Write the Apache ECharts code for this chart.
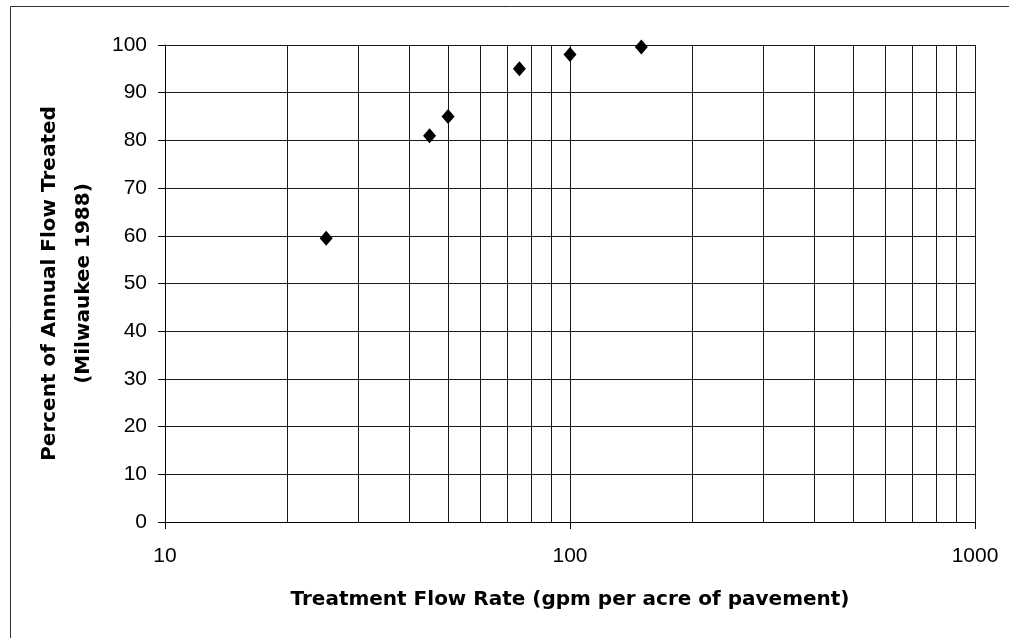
<!DOCTYPE html>
<html>
<head>
<meta charset="utf-8">
<script src="https://cdn.jsdelivr.net/npm/echarts@6/dist/echarts.min.js"></script>
<style>
html,body{margin:0;padding:0;background:#fff;}
#chart{width:1009px;height:638px;}
</style>
</head>
<body>
<div id="chart"></div>
<script>
// Data
const flowRate = [25, 45, 50, 75, 100, 150];
const percentTreated = [59.5, 81, 85, 95, 98, 99.6];
const minorGridValues = [20, 30, 40, 50, 60, 70, 80, 90, 200, 300, 400, 500, 600, 700, 800, 900];
const xTitle = 'Treatment Flow Rate (gpm per acre of pavement)';
const yTitle = 'Percent of Annual Flow Treated\n(Milwaukee 1988)';

const chart = echarts.init(document.getElementById('chart'), null, {renderer: 'canvas'});
const gridLine = {color: '#000', width: 1, type: 'solid', opacity: 0.9};
const labelFont = {fontFamily: '"Liberation Sans", Arial, sans-serif', fontSize: 21, color: '#000'};
const titleFont = {fontFamily: '"DejaVu Sans", sans-serif', fontWeight: 'bold', fontSize: 20, color: '#000'};

chart.setOption({
  backgroundColor: '#fff',
  animation: false,
  graphic: [{
    type: 'rect', silent: true,
    shape: {x: 10.5, y: 6.5, width: 1200, height: 800},
    style: {fill: 'none', stroke: '#333', lineWidth: 1}
  }],
  grid: {left: 165, right: 34, top: 45, bottom: 116, containLabel: false},
  xAxis: {
    type: 'log', logBase: 10, min: 10, max: 1000,
    name: xTitle, nameLocation: 'middle', nameGap: 66,
    nameTextStyle: Object.assign({lineHeight: 24}, titleFont),
    axisLine: {show: true, lineStyle: {color: '#000', width: 1}},
    axisTick: {show: true, inside: false, length: 7, lineStyle: {color: '#000'}},
    axisLabel: Object.assign({margin: 24, formatter: v => String(Math.round(v))}, labelFont),
    splitLine: {show: true, lineStyle: gridLine},
    minorTick: {show: false}, minorSplitLine: {show: false}
  },
  yAxis: {
    type: 'value', min: 0, max: 100, interval: 10,
    name: yTitle, nameLocation: 'middle', nameRotate: 90, nameGap: 63,
    nameTextStyle: Object.assign({lineHeight: 34, align: 'center'}, titleFont),
    axisLine: {show: true, lineStyle: {color: '#000', width: 1}},
    axisTick: {show: true, inside: false, length: 7, lineStyle: {color: '#000'}},
    axisLabel: Object.assign({margin: 18}, labelFont),
    splitLine: {show: true, lineStyle: gridLine}
  },
  series: [{
    type: 'scatter',
    data: flowRate.map((x, i) => [x, percentTreated[i]]),
    symbol: 'diamond',
    symbolSize: [13, 15],
    itemStyle: {color: '#000', opacity: 1},
    emphasis: {disabled: true},
    z: 5,
    markLine: {
      silent: true, symbol: 'none', animation: false,
      label: {show: false},
      lineStyle: gridLine,
      emphasis: {disabled: true},
      data: minorGridValues.map(v => ({xAxis: v}))
    }
  }]
});
</script>
</body>
</html>
